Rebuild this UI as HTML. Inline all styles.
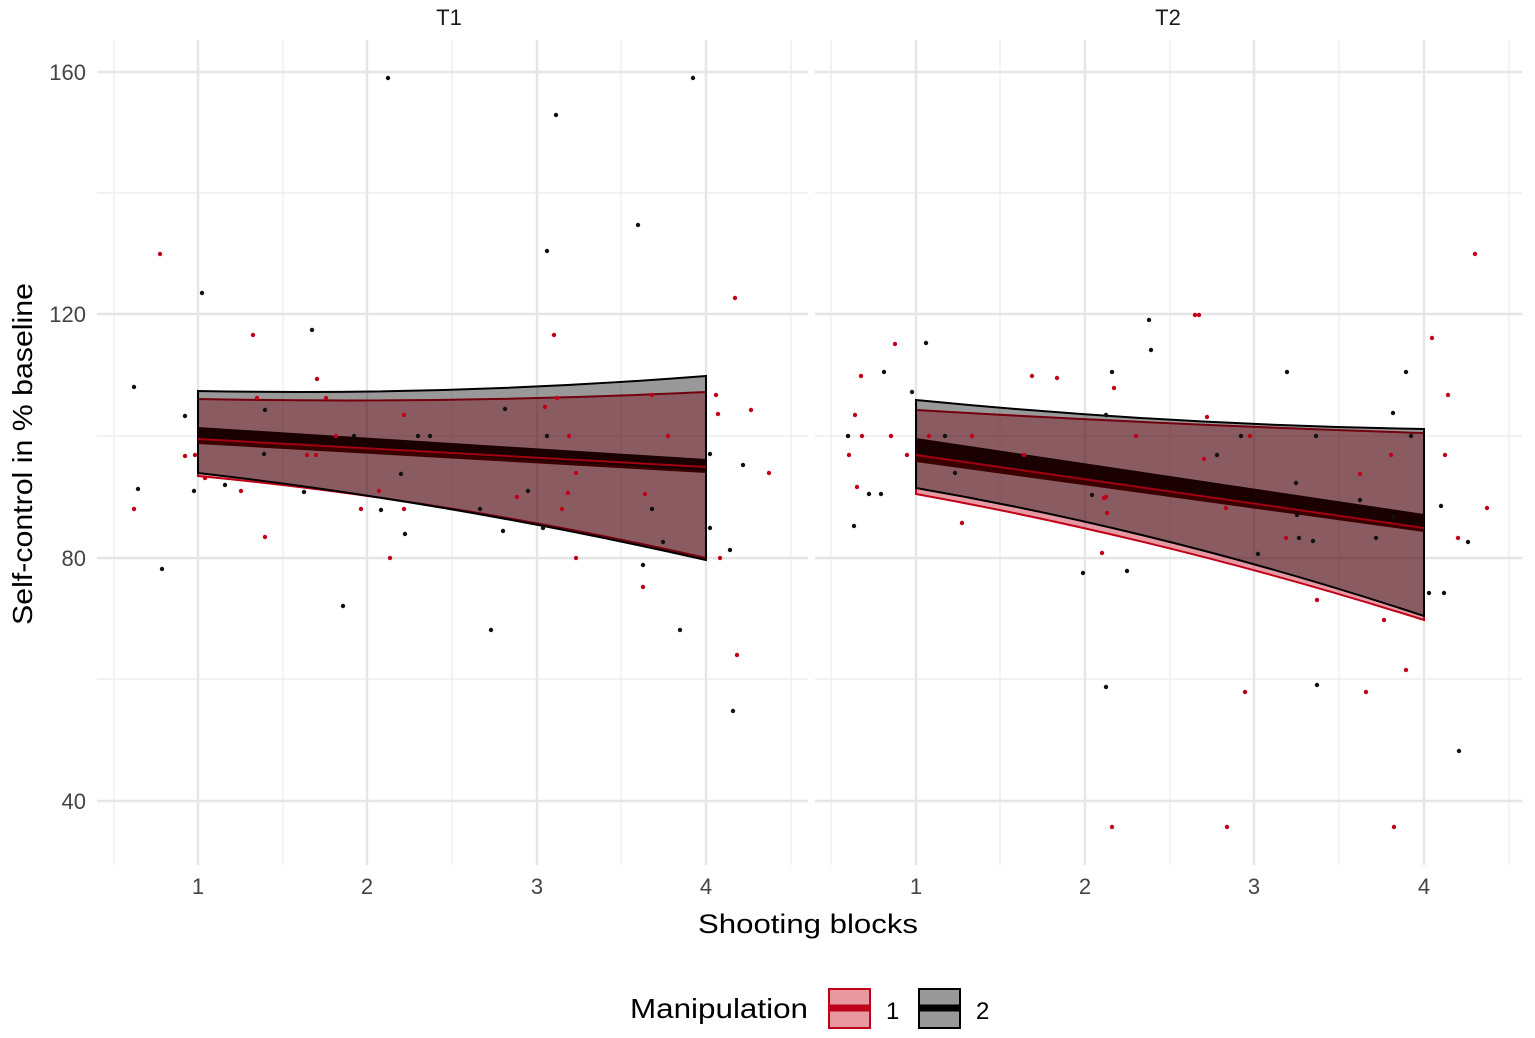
<!DOCTYPE html>
<html><head><meta charset="utf-8"><style>body{margin:0;background:#fff}svg{display:block}text{font-family:"Liberation Sans",sans-serif}</style></head><body>
<svg width="1535" height="1038" viewBox="0 0 1535 1038" xmlns="http://www.w3.org/2000/svg">
<g stroke="#ebebeb" stroke-width="1.2" fill="none">
<path d="M97 193H808M97 436H808M97 679H808M815 193H1522M815 436H1522M815 679H1522"/>
<path d="M114 40V865M283 40V865M452 40V865M621 40V865M791 40V865M831 40V865M1000 40V865M1170 40V865M1339 40V865M1509 40V865"/>
</g>
<g stroke="#e6e6e6" stroke-width="2.4" fill="none">
<path d="M97 72H808M97 314H808M97 558H808M97 801H808M815 72H1522M815 314H1522M815 558H1522M815 801H1522"/>
<path d="M198 40V865M367 40V865M537 40V865M706 40V865M916 40V865M1085 40V865M1254 40V865M1424 40V865"/>
</g>
<path d="M198 399 Q450 404 706 392 L706 558 Q450 500 198 476Z" fill="#c00018" fill-opacity="0.4" stroke="#c00018" stroke-width="2"/>
<path d="M198 391 Q450 396 706 376 L706 560 Q450 502 198 473Z" fill="#000" fill-opacity="0.4" stroke="#000" stroke-width="2"/>
<path d="M198 434 L706 467 L706 473 L198 444Z" fill="#3a0000"/>
<path d="M198 427 L706 459 L706 471 L198 438Z" fill="#1a0000"/>
<path d="M198 439 L706 467" stroke="#a00010" stroke-width="2"/>
<path d="M916 410 Q1170 425 1424 433 L1424 620 Q1170 540 916 494Z" fill="#c00018" fill-opacity="0.4" stroke="#c00018" stroke-width="2"/>
<path d="M916 400 Q1170 425 1424 429 L1424 616 Q1170 532 916 488Z" fill="#000" fill-opacity="0.4" stroke="#000" stroke-width="2"/>
<path d="M916 447 L1424 522 L1424 532 L916 462Z" fill="#3a0000"/>
<path d="M916 438 L1424 514 L1424 528 L916 454Z" fill="#1a0000"/>
<path d="M916 455 L1424 528" stroke="#a00010" stroke-width="2"/>
<g fill="#111">
<circle cx="134" cy="387" r="2.2"/><circle cx="138" cy="489" r="2.2"/><circle cx="162" cy="569" r="2.2"/><circle cx="185" cy="416" r="2.2"/><circle cx="202" cy="293" r="2.2"/><circle cx="194" cy="491" r="2.2"/><circle cx="225" cy="485" r="2.2"/><circle cx="264" cy="454" r="2.2"/><circle cx="265" cy="410" r="2.2"/><circle cx="304" cy="492" r="2.2"/><circle cx="312" cy="330" r="2.2"/><circle cx="343" cy="606" r="2.2"/><circle cx="354" cy="436" r="2.2"/><circle cx="388" cy="78" r="2.2"/><circle cx="381" cy="510" r="2.2"/><circle cx="405" cy="534" r="2.2"/><circle cx="401" cy="474" r="2.2"/><circle cx="418" cy="436" r="2.2"/><circle cx="430" cy="436" r="2.2"/><circle cx="480" cy="509" r="2.2"/><circle cx="491" cy="630" r="2.2"/><circle cx="503" cy="531" r="2.2"/><circle cx="505" cy="409" r="2.2"/><circle cx="528" cy="491" r="2.2"/><circle cx="543" cy="528" r="2.2"/><circle cx="547" cy="251" r="2.2"/><circle cx="547" cy="436" r="2.2"/><circle cx="556" cy="115" r="2.2"/><circle cx="638" cy="225" r="2.2"/><circle cx="643" cy="565" r="2.2"/><circle cx="652" cy="509" r="2.2"/><circle cx="680" cy="630" r="2.2"/><circle cx="693" cy="78" r="2.2"/><circle cx="710" cy="454" r="2.2"/><circle cx="710" cy="528" r="2.2"/><circle cx="733" cy="711" r="2.2"/><circle cx="730" cy="550" r="2.2"/><circle cx="743" cy="465" r="2.2"/><circle cx="663" cy="542" r="2.2"/>
<circle cx="848" cy="436" r="2.2"/><circle cx="854" cy="526" r="2.2"/><circle cx="869" cy="494" r="2.2"/><circle cx="881" cy="494" r="2.2"/><circle cx="884" cy="372" r="2.2"/><circle cx="912" cy="392" r="2.2"/><circle cx="926" cy="343" r="2.2"/><circle cx="945" cy="436" r="2.2"/><circle cx="955" cy="473" r="2.2"/><circle cx="1083" cy="573" r="2.2"/><circle cx="1092" cy="495" r="2.2"/><circle cx="1106" cy="687" r="2.2"/><circle cx="1106" cy="415" r="2.2"/><circle cx="1112" cy="372" r="2.2"/><circle cx="1127" cy="571" r="2.2"/><circle cx="1149" cy="320" r="2.2"/><circle cx="1151" cy="350" r="2.2"/><circle cx="1217" cy="455" r="2.2"/><circle cx="1241" cy="436" r="2.2"/><circle cx="1258" cy="554" r="2.2"/><circle cx="1287" cy="372" r="2.2"/><circle cx="1296" cy="483" r="2.2"/><circle cx="1299" cy="538" r="2.2"/><circle cx="1313" cy="541" r="2.2"/><circle cx="1316" cy="436" r="2.2"/><circle cx="1317" cy="685" r="2.2"/><circle cx="1360" cy="500" r="2.2"/><circle cx="1376" cy="538" r="2.2"/><circle cx="1393" cy="413" r="2.2"/><circle cx="1406" cy="372" r="2.2"/><circle cx="1411" cy="436" r="2.2"/><circle cx="1429" cy="593" r="2.2"/><circle cx="1441" cy="506" r="2.2"/><circle cx="1444" cy="593" r="2.2"/><circle cx="1459" cy="751" r="2.2"/><circle cx="1468" cy="542" r="2.2"/><circle cx="1393" cy="517" r="2.2"/><circle cx="1297" cy="515" r="2.2"/>
</g>
<g fill="#c00018">
<circle cx="134" cy="509" r="2.2"/><circle cx="160" cy="254" r="2.2"/><circle cx="185" cy="456" r="2.2"/><circle cx="195" cy="455" r="2.2"/><circle cx="205" cy="478" r="2.2"/><circle cx="241" cy="491" r="2.2"/><circle cx="253" cy="335" r="2.2"/><circle cx="257" cy="398" r="2.2"/><circle cx="265" cy="537" r="2.2"/><circle cx="307" cy="455" r="2.2"/><circle cx="316" cy="455" r="2.2"/><circle cx="317" cy="379" r="2.2"/><circle cx="326" cy="398" r="2.2"/><circle cx="336" cy="436" r="2.2"/><circle cx="361" cy="509" r="2.2"/><circle cx="379" cy="491" r="2.2"/><circle cx="390" cy="558" r="2.2"/><circle cx="404" cy="509" r="2.2"/><circle cx="404" cy="415" r="2.2"/><circle cx="517" cy="497" r="2.2"/><circle cx="545" cy="407" r="2.2"/><circle cx="554" cy="335" r="2.2"/><circle cx="557" cy="398" r="2.2"/><circle cx="562" cy="509" r="2.2"/><circle cx="568" cy="493" r="2.2"/><circle cx="569" cy="436" r="2.2"/><circle cx="576" cy="558" r="2.2"/><circle cx="576" cy="473" r="2.2"/><circle cx="643" cy="587" r="2.2"/><circle cx="645" cy="494" r="2.2"/><circle cx="652" cy="395" r="2.2"/><circle cx="668" cy="436" r="2.2"/><circle cx="716" cy="395" r="2.2"/><circle cx="720" cy="558" r="2.2"/><circle cx="737" cy="655" r="2.2"/><circle cx="735" cy="298" r="2.2"/><circle cx="751" cy="410" r="2.2"/><circle cx="769" cy="473" r="2.2"/><circle cx="718" cy="414" r="2.2"/>
<circle cx="849" cy="455" r="2.2"/><circle cx="855" cy="415" r="2.2"/><circle cx="857" cy="487" r="2.2"/><circle cx="861" cy="376" r="2.2"/><circle cx="862" cy="436" r="2.2"/><circle cx="891" cy="436" r="2.2"/><circle cx="895" cy="344" r="2.2"/><circle cx="907" cy="455" r="2.2"/><circle cx="929" cy="436" r="2.2"/><circle cx="962" cy="523" r="2.2"/><circle cx="972" cy="436" r="2.2"/><circle cx="1024" cy="455" r="2.2"/><circle cx="1032" cy="376" r="2.2"/><circle cx="1057" cy="378" r="2.2"/><circle cx="1102" cy="553" r="2.2"/><circle cx="1106" cy="497" r="2.2"/><circle cx="1107" cy="513" r="2.2"/><circle cx="1114" cy="388" r="2.2"/><circle cx="1136" cy="436" r="2.2"/><circle cx="1195" cy="315" r="2.2"/><circle cx="1199" cy="315" r="2.2"/><circle cx="1204" cy="459" r="2.2"/><circle cx="1207" cy="417" r="2.2"/><circle cx="1227" cy="827" r="2.2"/><circle cx="1226" cy="508" r="2.2"/><circle cx="1245" cy="692" r="2.2"/><circle cx="1250" cy="436" r="2.2"/><circle cx="1286" cy="538" r="2.2"/><circle cx="1317" cy="600" r="2.2"/><circle cx="1360" cy="474" r="2.2"/><circle cx="1366" cy="692" r="2.2"/><circle cx="1384" cy="620" r="2.2"/><circle cx="1391" cy="455" r="2.2"/><circle cx="1394" cy="827" r="2.2"/><circle cx="1406" cy="670" r="2.2"/><circle cx="1432" cy="338" r="2.2"/><circle cx="1445" cy="455" r="2.2"/><circle cx="1448" cy="395" r="2.2"/><circle cx="1458" cy="538" r="2.2"/><circle cx="1475" cy="254" r="2.2"/><circle cx="1487" cy="508" r="2.2"/><circle cx="1112" cy="827" r="2.2"/><circle cx="1104" cy="498" r="2.2"/>
</g>
<g font-size="22" fill="#444">
<text x="86" y="80" text-anchor="end">160</text><text x="86" y="322" text-anchor="end">120</text><text x="86" y="566" text-anchor="end">80</text><text x="86" y="809" text-anchor="end">40</text>
<g text-anchor="middle"><text x="198" y="894">1</text><text x="367" y="894">2</text><text x="537" y="894">3</text><text x="706" y="894">4</text><text x="916" y="894">1</text><text x="1085" y="894">2</text><text x="1254" y="894">3</text><text x="1424" y="894">4</text></g>
</g>
<g font-size="22" fill="#1a1a1a" text-anchor="middle"><text x="449" y="25">T1</text><text x="1168" y="25">T2</text></g>
<text x="698" y="933" font-size="27" textLength="220" lengthAdjust="spacingAndGlyphs" fill="#000">Shooting blocks</text>
<text transform="translate(32,625) rotate(-90)" font-size="28" textLength="342" lengthAdjust="spacingAndGlyphs" fill="#000">Self-control in % baseline</text>
<text x="630" y="1018" font-size="28" textLength="178" lengthAdjust="spacingAndGlyphs" fill="#000">Manipulation</text>
<rect x="829" y="989" width="41" height="39" fill="#e8999f" stroke="#c00018" stroke-width="2"/>
<path d="M829 1008H870" stroke="#c00018" stroke-width="7"/>
<rect x="919" y="989" width="41" height="39" fill="#999" stroke="#000" stroke-width="2"/>
<path d="M919 1008H960" stroke="#000" stroke-width="7"/>
<text x="886" y="1019" font-size="24" fill="#000">1</text>
<text x="976" y="1019" font-size="24" fill="#000">2</text>
</svg>
</body></html>
